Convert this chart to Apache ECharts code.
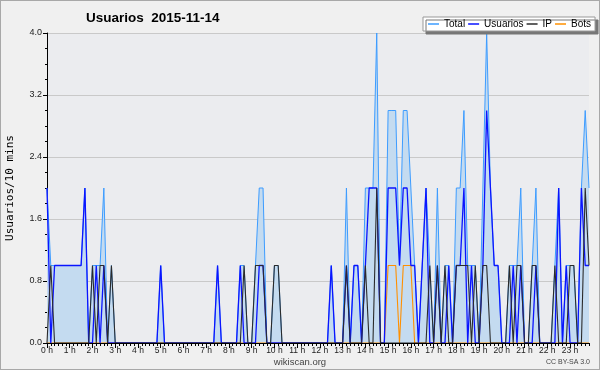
<!DOCTYPE html>
<html>
<head>
<meta charset="utf-8">
<script src="https://cdn.jsdelivr.net/npm/echarts@6/dist/echarts.min.js"></script>
<style>
    html, body { margin: 0; padding: 0; background: #f0f0f0; }
    #chart { width: 600px; height: 370px; box-sizing: border-box; border: 1px solid #a8a8a8; }
</style>
</head>
<body>
<div id="chart"></div>
<script>
// etiquetas de las horas (una cada 6 puntos de 10 min)
var hourLabels = ['0 h', '1 h', '2 h', '3 h', '4 h', '5 h', '6 h', '7 h', '8 h', '9 h', '10 h', '11 h',
    '12 h', '13 h', '14 h', '15 h', '16 h', '17 h', '18 h', '19 h', '20 h', '21 h', '22 h', '23 h'];

var yTicks = [0, 0.8, 1.6, 2.4, 3.2, 4.0];

// valores cada 10 minutos (12 por fila = 2 horas)
var totalData = [
    2, 1, 1, 1, 1, 1, 1, 1, 1, 1, 2, 0,
    1, 1, 1, 2, 0, 1, 0, 0, 0, 0, 0, 0,
    0, 0, 0, 0, 0, 0, 1, 0, 0, 0, 0, 0,
    0, 0, 0, 0, 0, 0, 0, 0, 0, 1, 0, 0,
    0, 0, 0, 1, 1, 0, 0, 1, 2, 2, 0, 0,
    1, 1, 0, 0, 0, 0, 0, 0, 0, 0, 0, 0,
    0, 0, 0, 1, 0, 0, 0, 2, 0, 1, 1, 0,
    2, 2, 2, 4, 0, 0, 3, 3, 3, 1, 3, 3,
    2, 1, 0, 1, 2, 1, 0, 2, 0, 1, 1, 0,
    2, 2, 3, 1, 1, 1, 0, 2, 4, 2, 1, 1,
    0, 0, 1, 1, 1, 2, 0, 0, 1, 2, 0, 0,
    0, 0, 1, 2, 0, 1, 1, 1, 0, 2, 3, 2
];

var usuariosData = [
    2, 0, 1, 1, 1, 1, 1, 1, 1, 1, 2, 0,
    0, 1, 0, 1, 0, 0, 0, 0, 0, 0, 0, 0,
    0, 0, 0, 0, 0, 0, 1, 0, 0, 0, 0, 0,
    0, 0, 0, 0, 0, 0, 0, 0, 0, 1, 0, 0,
    0, 0, 0, 1, 0, 0, 0, 0, 1, 1, 0, 0,
    0, 0, 0, 0, 0, 0, 0, 0, 0, 0, 0, 0,
    0, 0, 0, 1, 0, 0, 0, 1, 0, 1, 1, 0,
    1, 2, 2, 2, 0, 0, 2, 2, 2, 1, 2, 2,
    1, 1, 0, 1, 2, 0, 0, 1, 0, 0, 1, 0,
    1, 1, 2, 0, 1, 0, 0, 1, 3, 2, 1, 1,
    0, 0, 0, 1, 0, 1, 0, 0, 0, 1, 0, 0,
    0, 0, 0, 2, 0, 1, 0, 0, 0, 2, 1, 1
];

var ipData = [
    0, 1, 0, 0, 0, 0, 0, 0, 0, 0, 0, 0,
    1, 0, 1, 1, 0, 1, 0, 0, 0, 0, 0, 0,
    0, 0, 0, 0, 0, 0, 0, 0, 0, 0, 0, 0,
    0, 0, 0, 0, 0, 0, 0, 0, 0, 0, 0, 0,
    0, 0, 0, 0, 1, 0, 0, 1, 1, 1, 0, 0,
    1, 1, 0, 0, 0, 0, 0, 0, 0, 0, 0, 0,
    0, 0, 0, 0, 0, 0, 0, 1, 0, 0, 0, 0,
    1, 0, 0, 2, 0, 0, 0, 0, 0, 0, 0, 0,
    0, 0, 0, 0, 0, 1, 0, 1, 0, 1, 0, 0,
    1, 1, 1, 1, 0, 1, 0, 1, 1, 0, 0, 0,
    0, 0, 1, 0, 1, 1, 0, 0, 1, 1, 0, 0,
    0, 0, 1, 0, 0, 0, 1, 1, 0, 0, 2, 1
];

var botsData = [
    0, 0, 0, 0, 0, 0, 0, 0, 0, 0, 0, 0,
    0, 0, 0, 0, 0, 0, 0, 0, 0, 0, 0, 0,
    0, 0, 0, 0, 0, 0, 0, 0, 0, 0, 0, 0,
    0, 0, 0, 0, 0, 0, 0, 0, 0, 0, 0, 0,
    0, 0, 0, 0, 0, 0, 0, 0, 0, 0, 0, 0,
    0, 0, 0, 0, 0, 0, 0, 0, 0, 0, 0, 0,
    0, 0, 0, 0, 0, 0, 0, 0, 0, 0, 0, 0,
    0, 0, 0, 0, 0, 0, 1, 1, 1, 0, 1, 1,
    1, 0, 0, 0, 0, 0, 0, 0, 0, 0, 0, 0,
    0, 0, 0, 0, 0, 0, 0, 0, 0, 0, 0, 0,
    0, 0, 0, 0, 0, 0, 0, 0, 0, 0, 0, 0,
    0, 0, 0, 0, 0, 0, 0, 0, 0, 0, 0, 0
];

// categorias: un punto cada 10 min, etiqueta solo en la hora
var categories = [];
for (var i = 0; i < totalData.length; i++) {
    categories.push(i % 6 === 0 ? hourLabels[i / 6] : '');
}

var font = 'Liberation Sans';
var isHour = function (idx) { return idx % 6 === 0; };
var chart = echarts.init(document.getElementById('chart'));

var option = {
    animation: false,
    textStyle: { fontFamily: font },
    title: {
        text: 'Usuarios  2015-11-14',
        left: 85,
        top: 10,
        padding: 0,
        textStyle: { fontSize: 13.5, fontWeight: 'bold', color: '#000', fontFamily: font }
    },
    legend: {
        data: ['Total', 'Usuarios', 'IP', 'Bots'],
        left: 422,
        top: 16,
        width: 176,
        padding: [2, 4, 2, 5],
        itemGap: 3,
        itemWidth: 11,
        itemHeight: 1.5,
        icon: 'rect',
        backgroundColor: '#fff',
        borderColor: '#999',
        borderWidth: 1,
        borderRadius: 0,
        shadowColor: '#777',
        shadowBlur: 0,
        shadowOffsetX: 3,
        shadowOffsetY: 3,
        textStyle: { fontSize: 10, color: '#000', fontFamily: font }
    },
    grid: {
        left: 46,
        right: 10,
        top: 32,
        bottom: 26,
        outerBoundsMode: 'none',
        containLabel: false,
        show: true,
        backgroundColor: '#ebecef',
        borderWidth: 0
    },
    xAxis: [
        {
            type: 'category',
            data: categories,
            boundaryGap: false,
            z: 5,
            axisLine: { lineStyle: { color: '#000', width: 1 } },
            axisTick: { show: true, interval: 0, length: 3, lineStyle: { color: '#000' } },
            axisLabel: {
                interval: isHour,
                fontSize: 8.5,
                color: '#222',
                margin: 3,
                fontFamily: font
            },
            splitLine: { show: false }
        },
        {
            // marcas largas en cada hora
            type: 'category',
            data: categories,
            boundaryGap: false,
            position: 'bottom',
            axisLine: { show: false },
            axisTick: { show: true, interval: isHour, length: 5, lineStyle: { color: '#000' } },
            axisLabel: { show: false },
            splitLine: { show: false }
        }
    ],
    yAxis: {
        type: 'value',
        min: yTicks[0],
        max: yTicks[yTicks.length - 1],
        interval: 0.8,
        name: 'Usuarios/10 mins',
        nameLocation: 'middle',
        nameRotate: 90,
        nameGap: 31,
        nameTextStyle: { fontSize: 11, color: '#000', fontFamily: 'DejaVu Sans Mono' },
        axisLine: { show: true, lineStyle: { color: '#000', width: 1 } },
        axisTick: { show: true, length: 4, lineStyle: { color: '#000' } },
        minorTick: { show: true, splitNumber: 4, length: 2, lineStyle: { color: '#000' } },
        axisLabel: {
            fontSize: 9,
            color: '#222',
            margin: 5,
            fontFamily: font,
            formatter: function (v) { return v.toFixed(1); }
        },
        splitLine: { show: true, lineStyle: { color: '#c9c9c9', width: 1 } }
    },
    series: [
        {
            name: 'Total',
            type: 'line',
            data: totalData,
            showSymbol: false,
            color: '#3d9cff',
            lineStyle: { color: '#3d9cff', width: 1 },
            areaStyle: { color: '#c4dbf0', opacity: 1 }
        },
        {
            // bots debajo para que la linea en cero no tape el eje
            name: 'Bots',
            type: 'line',
            data: botsData,
            showSymbol: false,
            color: '#ff9000',
            lineStyle: { color: '#ff9000', width: 1.1 }
        },
        {
            name: 'Usuarios',
            type: 'line',
            data: usuariosData,
            showSymbol: false,
            color: '#0a14ff',
            lineStyle: { color: '#0a14ff', width: 1.3 }
        },
        {
            name: 'IP',
            type: 'line',
            data: ipData,
            showSymbol: false,
            color: '#2b2b2b',
            lineStyle: { color: '#2b2b2b', width: 1.1 }
        }
    ],
    graphic: [
        {
            type: 'text',
            left: 'center',
            top: 356,
            style: { text: 'wikiscan.org', fontSize: 9.5, fill: '#444', fontFamily: font }
        },
        {
            type: 'text',
            right: 9,
            top: 358,
            style: { text: 'CC BY-SA 3.0', fontSize: 7, fill: '#444', fontFamily: font }
        }
    ]
};

chart.setOption(option);
window.addEventListener('resize', function () {
    chart.resize();
});
</script>
</body>
</html>
